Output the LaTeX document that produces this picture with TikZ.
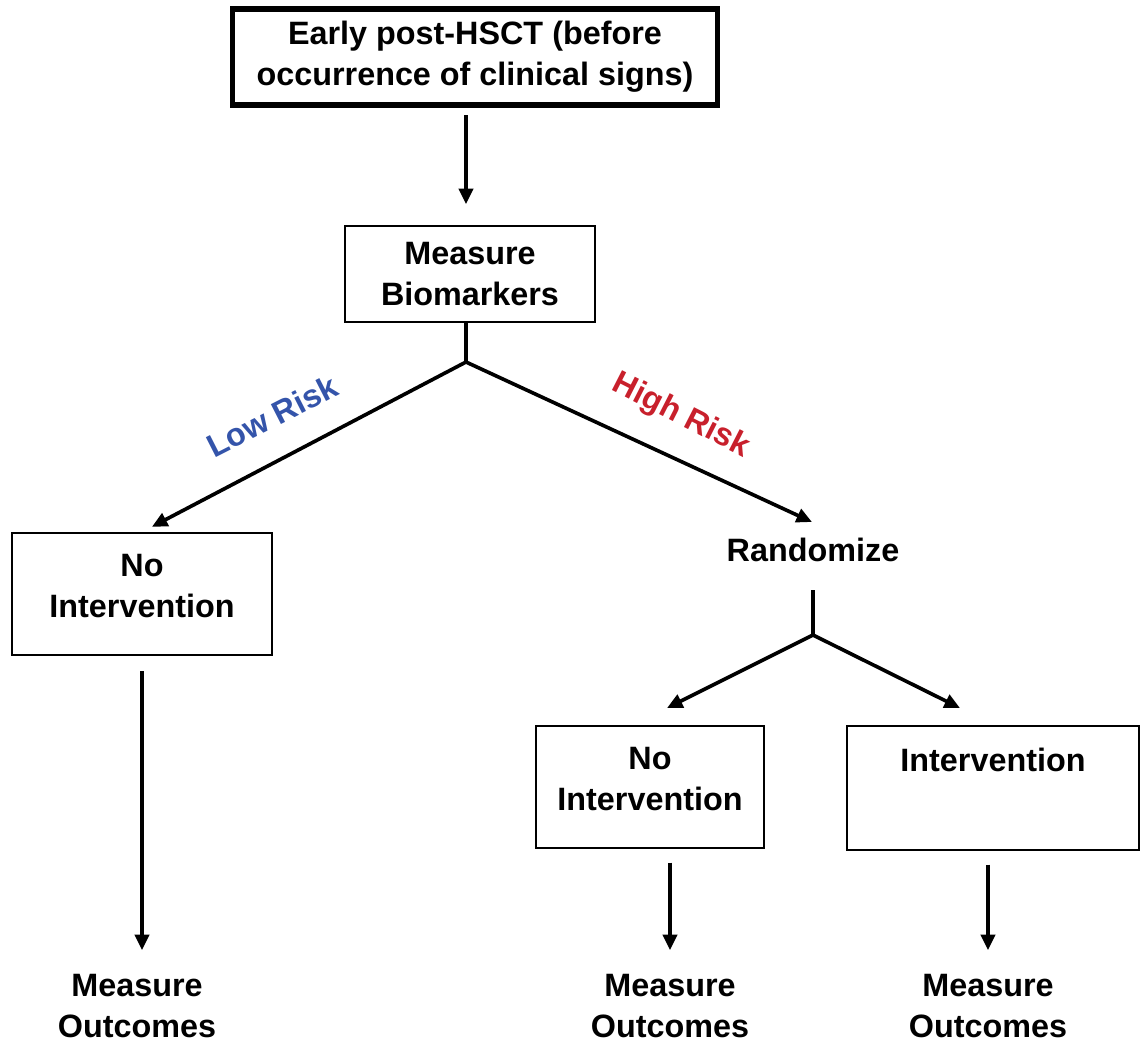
\documentclass[tikz,border=0pt]{standalone}
\usepackage{fontspec}
\setmainfont{Liberation Sans}
\usepackage{tikz}
\usetikzlibrary{arrows.meta}

\definecolor{lowblue}{RGB}{52,84,170}
\definecolor{highred}{RGB}{200,32,44}

\begin{document}
\begin{tikzpicture}[x=0.025cm,y=-0.025cm,
    every node/.style={font=\bfseries\fontsize{23}{29}\selectfont,align=center},
    box/.style={draw,line width=1.4pt,inner sep=0pt},
    >={Triangle[length=11pt,width=10pt]}]
    \useasboundingbox (0,0) rectangle (1140,1047);
    \node[box,line width=3.6pt,minimum width=12.1cm,minimum height=2.4cm] (early) at (475,57)
      {Early post-HSCT (before\\occurrence of clinical signs)};
    \node[box,minimum width=6.25cm,minimum height=2.4cm] (bio) at (470,274) {Measure\\Biomarkers};
    \node[box,minimum width=6.5cm,minimum height=3.05cm] (noint1) at (142,594) {No\\Intervention\\[-0.6cm]\mbox{}};
    \node (rand) at (813,550) {Randomize};
    \node[box,minimum width=5.68cm,minimum height=3.03cm] (noint2) at (650,787) {No\\Intervention\\[-0.6cm]\mbox{}};
    \node[box,minimum width=7.3cm,minimum height=3.08cm] (interv) at (993,788) {Intervention\\[0.4cm]\mbox{}};
    \node (out1) at (137,1006) {Measure\\Outcomes};
    \node (out2) at (670,1006) {Measure\\Outcomes};
    \node (out3) at (988,1006) {Measure\\Outcomes};
    \coordinate (j1) at (466,362);
    \coordinate (j2) at (813,635);
    \coordinate (hightip) at (812,522);
    \coordinate (leftip) at (667,708);
    \coordinate (rightip) at (960,708);
    \draw[->,line width=2.6pt,shorten <=7pt-1.4pt,shorten >=0.52cm] (early.south -| j1) to (bio.north -| j1);
    \draw[line width=2.6pt] (bio.south -| j1) to (j1);
    \draw[->,line width=2.6pt,shorten >=0.28cm] (j1) to (noint1.north);
    \draw[->,line width=2.6pt] (j1) to (hightip);
    \node[lowblue,rotate=27] (low) at (272,416) {Low Risk};
    \node[highred,rotate=-27] (high) at (681,416) {High Risk};
    \draw[->,line width=2.6pt,shorten <=0.38cm,shorten >=0.48cm] (noint1.south -| out1.north) ++(5,0) to ([xshift=0.125cm]out1.north);
    \draw[line width=2.6pt] (813,590) to (j2);
    \draw[->,line width=2.6pt] (j2) to (leftip);
    \draw[->,line width=2.6pt] (j2) to (rightip);
    \draw[->,line width=2.6pt,shorten <=0.35cm,shorten >=0.48cm] (noint2.south -| out2.north) to (out2.north);
    \draw[->,line width=2.6pt,shorten <=0.35cm,shorten >=0.48cm] (interv.south -| out3.north) to (out3.north);
\end{tikzpicture}
\end{document}
